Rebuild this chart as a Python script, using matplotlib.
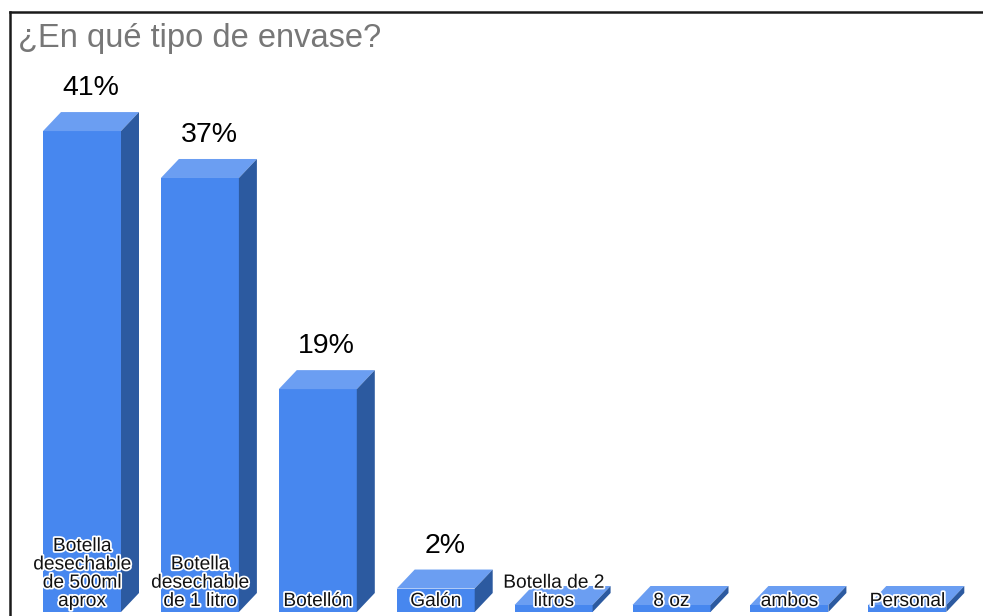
import numpy as np
import matplotlib.pyplot as plt
import matplotlib.patheffects as pe
from matplotlib.patches import Polygon

plt.rcParams['font.family'] = ['Liberation Sans', 'DejaVu Sans']

# survey answers and their share of responses (%)
categories = ["Botella\ndesechable\nde 500ml\naprox", "Botella\ndesechable\nde 1 litro",
              "Botellón", "Galón", "Botella de 2\nlitros", "8 oz", "ambos", "Personal"]
values = [41, 37, 19, 2, 0, 0, 0, 0]
value_labels = ["41%", "37%", "19%", "2%", "", "", "", ""]
title = "¿En qué tipo de envase?"

FRONT = '#4787ef'
TOP = '#6b9ef2'
SIDE = '#2c5aa0'

W, H, DPI = 983, 616, 100
fig = plt.figure(figsize=(W / DPI, H / DPI), dpi=DPI)
# the frame (left/top spines) starts 10px in from the left and 12px down
ax = fig.add_axes([10 / W, 0, (W - 10) / W, (H - 12) / H])

# pixel scale: 117.9 px between bars, 11.73 px per percent
px_x, px_y = 117.9, 11.73
x0 = 72.0 / px_x            # first bar centre sits 72px right of the frame
ax.set_xlim(-x0, (W - 10) / px_x - x0)
ax.set_ylim(-4 / px_y, (H - 12 - 4) / px_y)

for s in ['right', 'bottom']:
    ax.spines[s].set_visible(False)
for s in ['left', 'top']:
    ax.spines[s].set_color('#1a1a1a')
    ax.spines[s].set_linewidth(1.8)
ax.set_xticks([])
ax.set_yticks([])

bar_w = 78 / px_x
dx, dy = 18 / px_x, 19 / px_y
slab = 7 / px_y             # empty categories still get a thin slab

x = np.arange(len(categories))
heights = [max(v, slab) for v in values]
ax.bar(x, heights, width=bar_w, color=FRONT, zorder=2)

for xi, h, lab, cat in zip(x, heights, value_labels, categories):
    l, r = xi - bar_w / 2, xi + bar_w / 2
    ax.add_patch(Polygon([(l, h), (r, h), (r + dx, h + dy), (l + dx, h + dy)],
                         closed=True, color=TOP, lw=0, zorder=2))
    ax.add_patch(Polygon([(r, 0), (r + dx, dy), (r + dx, h + dy), (r, h)],
                         closed=True, color=SIDE, lw=0, zorder=2))
    if lab:
        ax.text(xi + dx / 2, h + dy + 11 / px_y, lab, ha='center', va='bottom',
                fontsize=20.5, color='black', zorder=3)
    ax.text(xi, 2 / px_y, cat, ha='center', va='bottom', fontsize=13.8,
            linespacing=1.1, color='#111111', zorder=4,
            path_effects=[pe.withStroke(linewidth=2.5, foreground='white')])

ax.text(8 / px_x - x0, (H - 12 - 4 - 27) / px_y, title, ha='left', va='center',
        fontsize=23.5, color='#777777')

fig.savefig('out.png', dpi=DPI)
